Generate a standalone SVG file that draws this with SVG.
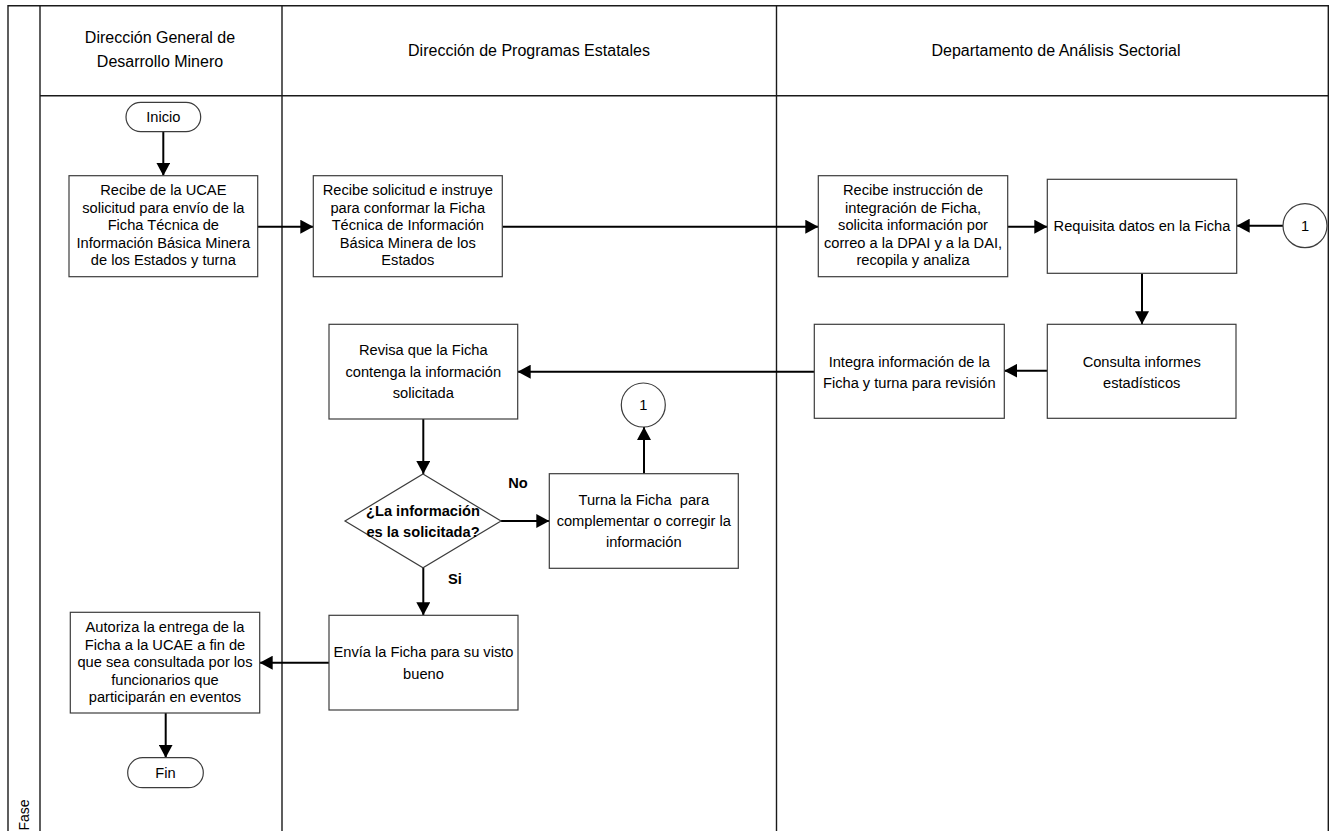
<svg xmlns="http://www.w3.org/2000/svg" width="1330" height="831" viewBox="0 0 1330 831">
<style>
.frame{stroke:#1a1a1a;stroke-width:1.4;fill:none}
.box{fill:#fff;stroke:#3c3c3c;stroke-width:1.2}
.t{font-family:"Liberation Sans",Arial,sans-serif;font-size:14.67px;fill:#000;text-anchor:middle}
.b{font-weight:bold}
.h{font-family:"Liberation Sans",Arial,sans-serif;font-size:16px;fill:#000;text-anchor:middle}
.c{stroke:#000;stroke-width:2;fill:none;marker-end:url(#ah)}
</style>
<defs>
<marker id="ah" markerUnits="userSpaceOnUse" markerWidth="14" markerHeight="14" refX="13" refY="7" orient="auto">
<path d="M0,0 L13,7 L0,14 z" fill="#000"/>
</marker>
</defs>
<rect width="1330" height="831" fill="#fff"/>
<g id="frame">
<path class="frame" d="M8,831 V5.7 H1328.3 V831 M40,5.7 V831 M282,5.7 V831 M776.5,5.7 V831 M40,95.7 H1328.3"/>
<text class="h" x="160" y="43">Dirección General de</text>
<text class="h" x="160" y="67.4">Desarrollo Minero</text>
<text class="h" x="529" y="55.7">Dirección de Programas Estatales</text>
<text class="h" x="1056" y="55.7">Departamento de Análisis Sectorial</text>
<text class="t" style="font-size:14px" transform="translate(28.5,815) rotate(-90)">Fase</text>
</g>
<g id="connectors">
<path class="c" d="M163.3,131.7 V175.7"/>
<path class="c" d="M257.7,226.7 H313.3"/>
<path class="c" d="M502.3,226.7 H818.3"/>
<path class="c" d="M1007.7,226.7 H1047.3"/>
<path class="c" d="M1283,225.7 H1236.7"/>
<path class="c" d="M1142,273.3 V324.3"/>
<path class="c" d="M1047.3,370.7 H1004.3"/>
<path class="c" d="M814.3,371.7 H517.7"/>
<path class="c" d="M423.3,419 V474"/>
<path class="c" d="M501,521 H549.3"/>
<path class="c" d="M644,473.7 V427"/>
<path class="c" d="M423.3,567.7 V615.3"/>
<path class="c" d="M329,662.7 H259.7"/>
<path class="c" d="M165.7,713 V757.7"/>
<text class="t b" x="518" y="488">No</text>
<text class="t b" x="455" y="583.5">Si</text>
</g>
<g id="inicio">
<rect class="box" x="126" y="102.3" width="74.7" height="29.4" rx="14.7"/>
<text class="t" x="163.3" y="122.2">Inicio</text>
</g>
<g id="recibe-ucae">
<rect class="box" x="69" y="175.7" width="188.7" height="101"/>
<text class="t" x="163.3" y="195">Recibe de la UCAE</text>
<text class="t" x="163.3" y="212.6">solicitud para envío de la</text>
<text class="t" x="163.3" y="230.2">Ficha Técnica de</text>
<text class="t" x="163.3" y="247.8">Información Básica Minera</text>
<text class="t" x="163.3" y="265.4">de los Estados y turna</text>
</g>
<g id="recibe-solicitud">
<rect class="box" x="313.3" y="175.7" width="189" height="101"/>
<text class="t" x="407.8" y="195">Recibe solicitud e instruye</text>
<text class="t" x="407.8" y="212.6">para conformar la Ficha</text>
<text class="t" x="407.8" y="230.2">Técnica de Información</text>
<text class="t" x="407.8" y="247.8">Básica Minera de los</text>
<text class="t" x="407.8" y="265.4">Estados</text>
</g>
<g id="recibe-instruccion">
<rect class="box" x="818.3" y="175.7" width="189.4" height="101"/>
<text class="t" x="913" y="195">Recibe instrucción de</text>
<text class="t" x="913" y="212.6">integración de Ficha,</text>
<text class="t" x="913" y="230.2">solicita información por</text>
<text class="t" x="913" y="247.8">correo a la DPAI y a la DAI,</text>
<text class="t" x="913" y="265.4">recopila y analiza</text>
</g>
<g id="requisita">
<rect class="box" x="1047.3" y="179.3" width="189.4" height="94"/>
<text class="t" x="1142" y="231">Requisita datos en la Ficha</text>
</g>
<g id="conector-1-a">
<circle class="box" cx="1305" cy="225.7" r="22"/>
<text class="t" x="1305" y="231">1</text>
</g>
<g id="consulta">
<rect class="box" x="1047.3" y="324.3" width="188.7" height="94"/>
<text class="t" x="1141.7" y="366.5">Consulta informes</text>
<text class="t" x="1141.7" y="387.5">estadísticos</text>
</g>
<g id="integra">
<rect class="box" x="814.3" y="324.3" width="190" height="94"/>
<text class="t" x="909.3" y="366.5">Integra información de la</text>
<text class="t" x="909.3" y="387.5">Ficha y turna para revisión</text>
</g>
<g id="revisa">
<rect class="box" x="329" y="324.3" width="188.7" height="94.7"/>
<text class="t" x="423.3" y="355.2">Revisa que la Ficha</text>
<text class="t" x="423.3" y="376.6">contenga la información</text>
<text class="t" x="423.3" y="398">solicitada</text>
</g>
<g id="decision">
<path class="box" d="M423,474 L501,521 L423,567.7 L345,521 z"/>
<text class="t b" x="423" y="516">¿La información</text>
<text class="t b" x="423" y="537">es la solicitada?</text>
</g>
<g id="turna">
<rect class="box" x="549.3" y="473.7" width="189" height="94.6"/>
<text class="t" x="643.8" y="504.5" style="white-space:pre">Turna la Ficha  para</text>
<text class="t" x="643.8" y="526">complementar o corregir la</text>
<text class="t" x="643.8" y="547">información</text>
</g>
<g id="conector-1-b">
<circle class="box" cx="643.3" cy="405" r="22"/>
<text class="t" x="643.3" y="410">1</text>
</g>
<g id="envia">
<rect class="box" x="329" y="615.3" width="189" height="94.7"/>
<text class="t" x="423.5" y="657">Envía la Ficha para su visto</text>
<text class="t" x="423.5" y="678.5">bueno</text>
</g>
<g id="autoriza">
<rect class="box" x="70.3" y="612.3" width="189.4" height="100.7"/>
<text class="t" x="165" y="632">Autoriza la entrega de la</text>
<text class="t" x="165" y="649.5">Ficha a la UCAE a fin de</text>
<text class="t" x="165" y="667">que sea consultada por los</text>
<text class="t" x="165" y="684.5">funcionarios que</text>
<text class="t" x="165" y="702">participarán en eventos</text>
</g>
<g id="fin">
<rect class="box" x="127.7" y="757.7" width="75.6" height="30" rx="15"/>
<text class="t" x="165.5" y="778">Fin</text>
</g>
</svg>
